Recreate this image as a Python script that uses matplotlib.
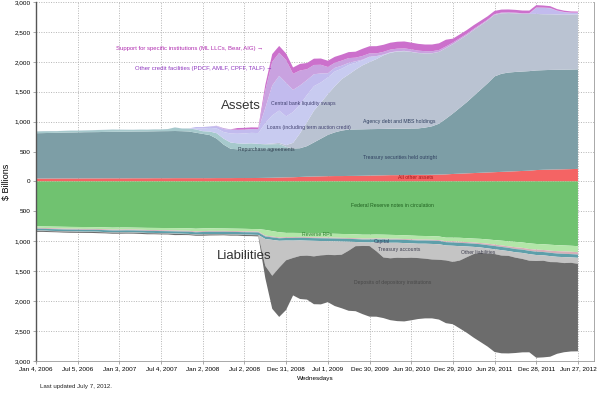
import matplotlib
matplotlib.use("Agg")
import matplotlib.pyplot as plt
import matplotlib.dates as mdates
import numpy as np
import pandas as pd

plt.rcParams['font.family'] = ['Liberation Sans', 'DejaVu Sans']

# Monthly observations, Jan 4 2006 .. Jun 27 2012 ($ billions)
dates = pd.date_range("2006-01-04", "2012-06-27", periods=79)

# ---------------- Assets ----------------
other_assets = [48,48,49,49,50,50,50,51,51,51,52,52,
                52,52,53,53,53,54,54,54,55,55,55,55,
                55,55,56,56,56,57,57,57,58,
                60,62,65,68,70,75,80,82,85,88,90,90,92,93,95,
                98,100,102,105,105,106,108,110,110,112,115,118,
                125,130,135,140,145,150,155,160,165,170,175,180,
                190,195,198,200,203,206,210]
treasury = [758,760,762,764,766,768,770,772,773,774,776,778,
            779,780,781,782,783,784,786,787,788,785,780,760,
            740,720,660,560,490,480,480,480,480,
            480,480,480,480,480,480,510,570,630,690,730,760,775,776,776,
            776,776,776,776,776,776,776,776,790,810,850,930,
            1010,1100,1190,1290,1390,1490,1600,1640,1655,1660,1662,1664,
            1665,1665,1666,1666,1665,1664,1663]
repos = [30,32,30,28,30,32,30,30,32,35,35,38,
         35,33,30,32,30,32,30,35,60,45,50,55,
         45,60,90,100,105,100,95,100,90,
         80,80,80,30,0,0,0,0,0,0,0,0,0,0,0,
         0,0,0,0,0,0,0,0,0,0,0,0,
         0,0,0,0,0,0,0,0,0,0,0,0,
         0,0,0,0,0,0,0]
agency = [0]*33 + [5,12,20,30,95,250,400,530,600,680,770,860,920,1000,1070,
                   1120,1170,1230,1270,1290,1295,1280,1260,1240,1220,1200,1180,
                   1160,1140,1120,1100,1075,1050,1030,1010,995,980,965,955,
                   945,935,930,925,925,920,920]
loans = [1]*23 + [20,45,60,80,110,150,160,170,175,180,
                  350,470,540,480,515,480,455,410,340,280,248,175,160,115,85,
                  90,50,13,8,6,5,3,2,1,1,1,1,
                  1,1,1,1,1,1,1,1,1,1,1,1,
                  1,1,1,1,1,1,1]
swaps = [0]*23 + [20,24,24,40,50,60,62,62,62,65,
                  250,500,580,560,370,320,250,200,150,70,60,50,35,25,10,
                  1,0,0,0,0,1,1,1,1,1,1,1,
                  1,1,1,1,1,1,1,1,1,1,1,5,
                  100,105,100,60,35,28,25]
other_credit = [0]*26 + [5,15,10,5,3,1,0,
                         300,395,385,380,270,250,180,155,145,105,85,85,80,60,62,
                         55,45,45,45,43,42,40,38,35,33,30,27,
                         25,22,20,18,16,14,12,11,10,9,8,7,
                         6,5,5,4,4,3,3]
support = [0]*29 + [29,29,29,29,
                    90,130,115,110,105,110,105,105,105,105,100,100,100,100,120,
                    120,120,118,115,115,115,113,113,112,112,112,112,
                    65,64,63,62,58,55,52,50,48,47,45,44,
                    40,35,30,25,22,20,18]

# ---------------- Liabilities ----------------
notes = [750,752,754,756,758,760,761,762,763,765,768,772,
         770,770,772,774,776,777,778,779,780,781,783,790,
         785,783,785,786,788,790,792,795,797,
         810,830,850,860,860,862,865,868,870,872,875,878,880,884,890,
         890,888,890,893,896,900,905,910,912,915,920,940,
         940,942,948,955,960,970,980,990,1000,1010,1020,1035,
         1045,1050,1058,1065,1070,1075,1082]
reverse_rps = [25,25,27,28,30,30,30,32,30,30,32,33,
               35,33,32,33,35,35,37,38,40,42,42,45,
               45,43,42,40,40,40,42,40,40,
               95,90,85,70,70,65,65,65,65,65,65,65,65,65,65,
               65,65,65,65,62,62,62,62,60,60,60,60,
               60,65,65,65,70,70,75,80,85,90,90,95,
               95,95,100,100,100,100,100]
other_liab = [15]*60 + [20,20,20,20,20,25,25,25,25,30,30,30,35,35,35,40,40,40,40]
capital = [29,29,30,30,30,30,31,31,31,31,32,32,
           32,33,33,33,34,34,35,35,36,36,37,37,
           38,38,39,39,40,40,41,41,42,
           42,42,42,43,44,44,45,45,46,46,47,47,48,48,49,
           50,50,51,52,52,53,53,54,54,55,55,55,
           55,55,54,54,54,54,54,54,54,54,55,55,
           55,55,55,55,55,55,55]
treasury_acct = [6,5,5,6,5,5,6,5,5,6,5,5,
                 5,5,6,5,5,6,5,5,6,5,5,5,
                 5,6,5,5,6,5,5,6,5,
                 450,600,450,330,290,260,250,260,240,230,230,220,150,70,60,
                 60,150,250,260,250,250,240,240,250,260,260,250,
                 270,240,180,120,90,90,80,90,80,90,100,110,
                 100,90,100,90,100,90,100]
deposits = [18,17,16,15,17,18,16,15,17,18,16,17,
            17,16,15,17,18,16,16,15,20,17,15,16,
            20,18,16,15,17,16,18,17,20,
            203,552,823,830,626,719,735,799,819,790,851,895,1004,1087,1139,
            1180,1093,1013,1034,1060,1060,1046,1019,998,984,999,1049,
            1042,1136,1263,1398,1492,1552,1637,1634,1631,1594,1562,1531,
            1617,1616,1582,1531,1490,1482,1463]

asset_series = [other_assets, treasury, repos, agency, loans, swaps, other_credit, support]
asset_colors = ["#f46464", "#7d9ea6", "#a6c9cc", "#bac3d2", "#c8cbf0", "#c2bbee", "#c9a2e0", "#cc70cc"]
liab_series = [notes, reverse_rps, other_liab, capital, treasury_acct, deposits]
liab_colors = ["#70c270", "#b2e6a8", "#d7b0b8", "#5e9faa", "#c4c4c4", "#6c6c6c"]

xtick_dates = pd.to_datetime(["2006-01-04", "2006-07-05", "2007-01-03", "2007-07-04",
                              "2008-01-02", "2008-07-02", "2008-12-31", "2009-07-01",
                              "2009-12-30", "2010-06-30", "2010-12-29", "2011-06-29",
                              "2011-12-28", "2012-06-27"])
xtick_labels = ["Jan 4, 2006", "Jul 5, 2006", "Jan 3, 2007", "Jul 4, 2007", "Jan 2, 2008",
                "Jul 2, 2008", "Dec 31, 2008", "Jul 1, 2009", "Dec 30, 2009", "Jun 30, 2010",
                "Dec 29, 2010", "Jun 29, 2011", "Dec 28, 2011", "Jun 27, 2012"]
ytick_vals = [3000, 2500, 2000, 1500, 1000, 500, 0, -500, -1000, -1500, -2000, -2500, -3000]
ytick_labels = ["3,000", "2,500", "2,000", "1,500", "1,000", "500", "0",
                "500", "1,000", "1,500", "2,000", "2,500", "3,000"]

fig = plt.figure(figsize=(6.0, 3.94), dpi=100)
ax = fig.add_axes([0.06, 0.084, 0.93, 0.911])

ax.stackplot(dates, *[np.array(s, float) for s in asset_series], colors=asset_colors, linewidth=0)
ax.stackplot(dates, *[-np.array(s, float) for s in liab_series], colors=liab_colors, linewidth=0)

ax.set_xlim(pd.Timestamp("2006-01-04"), pd.Timestamp("2012-09-05"))
ax.set_ylim(-3000, 3000)
ax.set_xticks(xtick_dates)
ax.set_xticklabels(xtick_labels, fontsize=4.6)
ax.set_yticks(ytick_vals)
ax.set_yticklabels(ytick_labels, fontsize=4.6)
ax.tick_params(length=2, width=0.5, color="#888888", pad=2)
ax.set_axisbelow(True)
ax.grid(True, color="#b5b5b5", linestyle=(0, (1, 1.5)), linewidth=0.7)
for s in ["top", "right", "bottom"]:
    ax.spines[s].set_color("#9a9a9a")
    ax.spines[s].set_linewidth(0.6)
ax.spines["left"].set_color("#555555")
ax.spines["left"].set_linewidth(1.0)
ax.spines["top"].set_visible(False)

ax.set_ylabel("$ Billions", fontsize=6.5, labelpad=2)
ax.set_xlabel("Wednesdays", fontsize=4.6, labelpad=3)

def d(s):
    return pd.Timestamp(s)

lab = dict(fontsize=3.7, ha="center", va="center")
big = dict(fontsize=4.3, ha="center", va="center")
ax.text(d("2007-11-05"), 2215, "Support for specific institutions (ML LLCs, Bear, AIG) \u2192", color="#b02cb0", **big)
ax.text(d("2008-01-05"), 1885, "Other credit facilities (PDCF, AMLF, CPFF, TALF) \u2192", color="#9038c0", **big)
ax.text(d("2008-06-17"), 1260, "Assets", fontsize=9.5, color="#333333", ha="center", va="center")
ax.text(d("2009-03-15"), 1300, "Central bank liquidity swaps", color="#404070", **lab)
ax.text(d("2009-04-10"), 900, "Loans (including term auction credit)", color="#404070", **lab)
ax.text(d("2008-10-05"), 535, "Repurchase agreements", color="#304050", **lab)
ax.text(d("2010-05-10"), 1000, "Agency debt and MBS holdings", color="#304060", **lab)
ax.text(d("2010-05-10"), 400, "Treasury securities held outright", color="#304060", **lab)
ax.text(d("2010-07-20"), 67, "All other assets", color="#a01818", **lab)
ax.text(d("2010-04-10"), -400, "Federal Reserve notes in circulation", color="#1f5f1f", **lab)
ax.text(d("2009-05-15"), -880, "Reverse RPs", color="#2f7f2f", **lab)
ax.text(d("2010-02-20"), -1000, "Capital", color="#304060", **lab)
ax.text(d("2010-05-10"), -1135, "Treasury accounts", color="#404050", **lab)
ax.text(d("2011-04-20"), -1185, "Other liabilities", color="#404050", **lab)
ax.text(d("2010-04-10"), -1685, "Deposits of depository institutions", color="#484848", **lab)
ax.text(d("2008-07-01"), -1250, "Liabilities", fontsize=9.5, color="#333333", ha="center", va="center")

fig.text(0.067, 0.015, "Last updated July 7, 2012.", fontsize=4.4, color="#222222")

fig.savefig("out.png", dpi=100)
